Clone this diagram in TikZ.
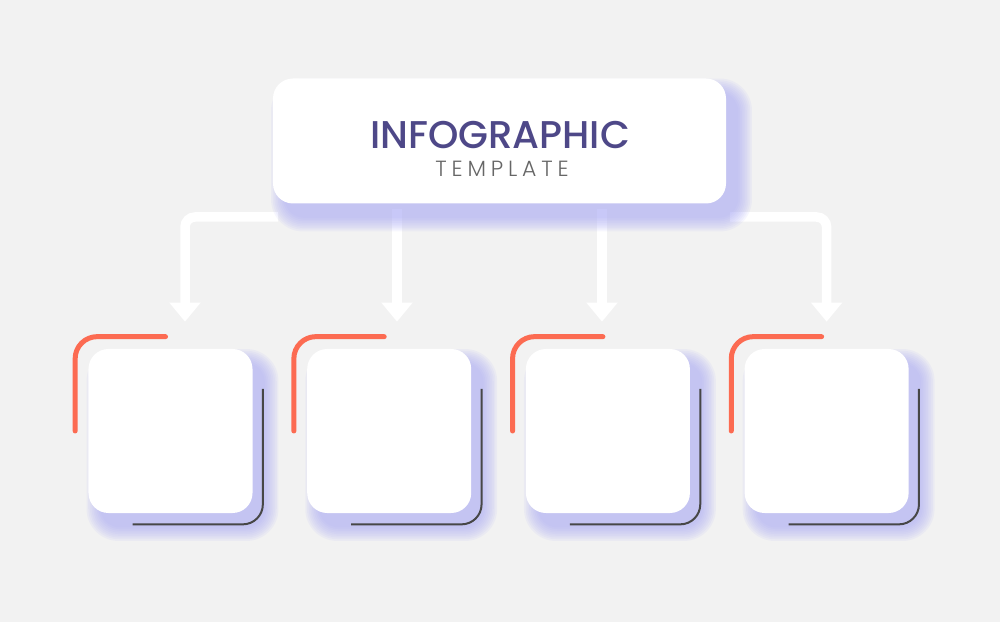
\documentclass[tikz,border=0pt]{standalone}
\usepackage{fontspec}
\setmainfont{Poppins}
\newfontfamily\lightfont{Poppins Light}
\newfontfamily\midfont{Poppins Medium}
\usetikzlibrary{arrows.meta,positioning}

\definecolor{canvas}{HTML}{F2F2F2}
\definecolor{ink}{HTML}{4E4888}
\definecolor{subink}{HTML}{666666}
\definecolor{coral}{HTML}{FC6B52}
\definecolor{rimgray}{HTML}{474747}
\definecolor{lavender}{HTML}{ACACF8}

\pgfdeclarelayer{bg}
\pgfdeclarelayer{flow}
\pgfdeclarelayer{shade}
\pgfsetlayers{bg,flow,shade,main}

\tikzset{
  card/.style={fill=white, rounded corners=4mm, minimum width=32.8mm, minimum height=32.8mm, inner sep=0pt},
  headcard/.style={fill=white, rounded corners=4mm, minimum width=90.6mm, minimum height=25mm, inner sep=0pt},
  flow/.style={white, line width=1.9mm, rounded corners=2mm, shorten >=5.4mm, -{Triangle[length=3.8mm,width=6mm]}},
  accent/.style={coral, line width=1mm, line cap=round, rounded corners=4.4mm},
  rim/.style={rimgray, line width=0.4mm, rounded corners=4mm},
}

% soft lavender glow under a node
\newcommand\softshadow[1]{%
  \foreach \i [evaluate=\i as \rr using 4+0.3*\i] in {0,...,8}
    \fill[lavender, opacity=0.1, rounded corners=\rr mm]
      ([shift={(12-1.7*\i,14-1.7*\i)}]#1.north west) rectangle ([shift={(12+1.7*\i,14+1.7*\i)}]#1.south east);}

\begin{document}
\begin{tikzpicture}[x=0.2mm, y=-0.2mm, node distance=10.8mm]
  \begin{pgfonlayer}{bg}
    \fill[canvas] (0,0) rectangle (1000,622);
  \end{pgfonlayer}

  % header
  \node[headcard] (head) at (499.5,141) {};
  \node[ink, font=\midfont\fontsize{22}{24}\selectfont] (title) at (500,135) {INFOGRAPHIC};
  \node[subink, font=\lightfont\fontsize{12.5}{14}\selectfont\addfontfeatures{LetterSpace=22}] (sub) at (502,169) {TEMPLATE};

  % cards
  \node[card] (box1) at (170.5,431) {};
  \node[card, right=of box1] (box2) {};
  \node[card, right=of box2] (box3) {};
  \node[card, right=of box3] (box4) {};

  \coordinate (s1) at (278,217);
  \coordinate (s2) at (397,209);
  \coordinate (s3) at (602,209);
  \coordinate (s4) at (730,217);

  \begin{pgfonlayer}{flow}
    \draw[flow] (s1) -| ([xshift=2.9mm]box1.north);
    \draw[flow] (s2) -- (s2 |- box2.north);
    \draw[flow] (s3) -- (s3 |- box3.north);
    \draw[flow] (s4) -| (box4.north);
  \end{pgfonlayer}

  \begin{pgfonlayer}{shade}
    \softshadow{head}
    \foreach \b in {box1,box2,box3,box4} {\softshadow{\b}}
  \end{pgfonlayer}

  \foreach \b in {box1,box2,box3,box4} {
    \draw[accent] ([xshift=-2.6mm]\b.west) |- ([xshift=-1mm,yshift=2.4mm]\b.north);
    \draw[rim] ([xshift=2mm,yshift=8.4mm]\b.east) |- ([xshift=-7.6mm,yshift=-2.2mm]\b.south);
  }
\end{tikzpicture}
\end{document}
